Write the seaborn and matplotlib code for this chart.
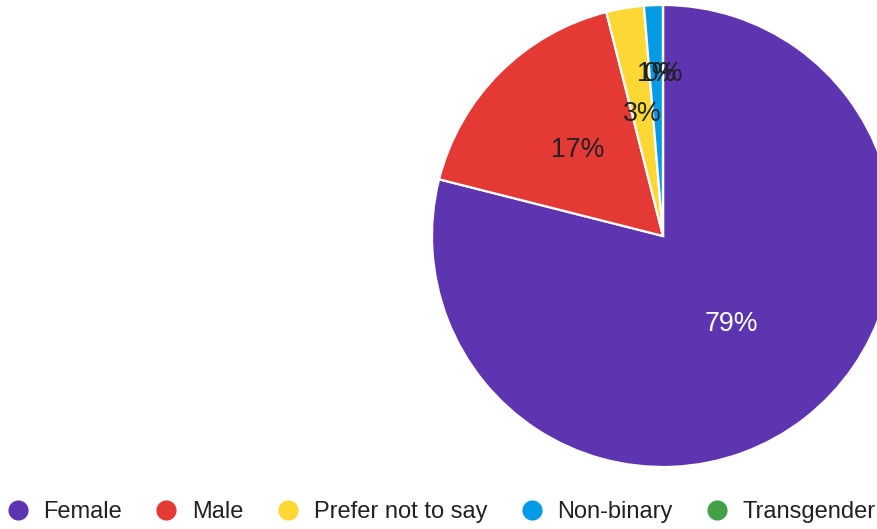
import numpy as np
import matplotlib
matplotlib.use("Agg")
import matplotlib.pyplot as plt
from matplotlib.lines import Line2D
import seaborn as sns

# Survey responses by gender
categories = ["Female", "Male", "Prefer not to say", "Non-binary", "Transgender"]
counts = [60, 13, 2, 1, 0]
colors = ["#5E35B1", "#E53935", "#FDD835", "#039BE5", "#43A047"]

sns.set_theme(style="white")
plt.rcParams["font.family"] = ["Liberation Sans", "DejaVu Sans"]

W, H = 878, 529
fig = plt.figure(figsize=(W / 100, H / 100), dpi=100)
fig.patch.set_facecolor("white")

# Pie centred at (663, 236) px with radius 231 px
cx, cy, r = 663, 236, 231
ax = fig.add_axes([(cx - r) / W, (H - cy - r) / H, 2 * r / W, 2 * r / H])

wedges, _ = ax.pie(
    counts,
    colors=colors,
    startangle=90,
    counterclock=False,
    radius=1,
    wedgeprops=dict(edgecolor="white", linewidth=1.6),
)
ax.set_xlim(-1, 1)
ax.set_ylim(-1, 1)
ax.set_aspect("equal")
ax.axis("off")
for w in wedges:
    w.set_clip_on(False)

total = sum(counts)
label_dist = [0.485, 0.525, 0.535, 0.70, 0.70]
label_color = ["white", "#212121", "#212121", "#212121", "#212121"]
for w, c, d, tc in zip(wedges, counts, label_dist, label_color):
    mid = np.deg2rad((w.theta1 + w.theta2) / 2)
    pct = round(100 * c / total)
    ax.text(d * np.cos(mid), d * np.sin(mid), f"{pct}%",
            ha="center", va="center", fontsize=19.2, color=tc)

handles = [Line2D([0], [0], marker="o", linestyle="none", markersize=14.5,
                  markerfacecolor=col, markeredgewidth=0)
           for col in colors]
fig.legend(handles, categories, loc="center left",
           bbox_to_anchor=(7.5 / W, 1 - 512 / H), ncol=5, frameon=False,
           fontsize=17, handlelength=0.85, handletextpad=0.66,
           columnspacing=1.46, borderpad=0, borderaxespad=0,
           labelcolor="#212121")

fig.savefig("out.png", dpi=100, facecolor="white")
